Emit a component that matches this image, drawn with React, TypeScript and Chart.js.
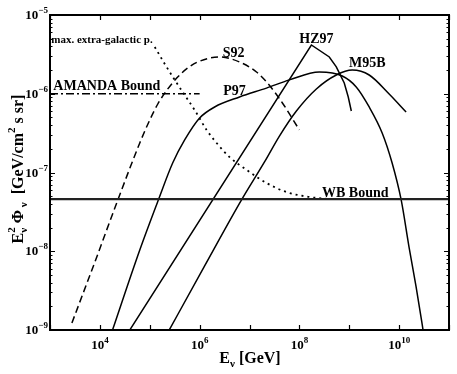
import React, { useEffect, useRef } from 'react';
import { Chart, registerables } from 'chart.js';

Chart.register(...registerables);

// ---------- data (E in GeV, E^2 Phi in GeV/cm^2 s sr) ----------
const wbE = [1e3, 1e11];
const wbF = [4.6e-8, 4.6e-8];

const amandaE = [1e3, 1e6];
const amandaF = [1e-6, 1e-6];

const maxEgE = [1.26e5, 2e5, 3.16e5, 5.01e5, 7.94e5, 1.38e6, 2.19e6, 3.98e6, 8.71e6, 2.19e7, 5.5e7, 1.58e8, 3.98e8];
const maxEgF = [3.93e-6, 2.39e-6, 1.5e-6, 9.64e-7, 6.22e-7, 3.47e-7, 2.37e-7, 1.57e-7, 1.08e-7, 7.36e-8, 5.65e-8, 4.89e-8, 4.6e-8];

const s92E = [2.75e3, 7.94e3, 2.29e4, 6.31e4, 1e5, 1.45e5, 2e5, 3.47e5, 5.75e5, 9.12e5, 2.51e6, 6.31e6, 1.38e7, 2.29e7, 4.57e7, 1e8];
const s92F = [1.23e-9, 7.3e-9, 4.48e-8, 2.37e-7, 4.64e-7, 7.41e-7, 1.02e-6, 1.58e-6, 2.12e-6, 2.53e-6, 2.93e-6, 2.53e-6, 1.89e-6, 1.37e-6, 7.64e-7, 3.47e-7];

const p97E = [1.58e4, 6.31e4, 1.51e5, 2.88e5, 5.01e5, 1e6, 2e6, 6.31e6, 2.19e7, 6.31e7, 2.51e8, 7.24e8, 1.38e9, 2.51e9, 4.57e9, 7.24e9, 1.1e10, 1.58e10, 2.19e10, 3.02e10, 3.3e10];
const p97F = [7.9e-10, 1.04e-8, 4.6e-8, 1.32e-7, 2.59e-7, 4.92e-7, 6.79e-7, 9.1e-7, 1.18e-6, 1.5e-6, 1.89e-6, 1.68e-6, 1.22e-6, 6.79e-7, 3.18e-7, 1.32e-7, 4.48e-8, 1.13e-8, 3.52e-9, 1e-9, 7e-10];

const hz97E = [3.5e4, 1.74e8, 3.98e8, 5.5e8, 7.94e8, 9.55e8, 1.1e9];
const hz97F = [8.8e-10, 4.16e-6, 2.93e-6, 2.19e-6, 1.37e-6, 9.1e-7, 6.04e-7];

const m95bE = [2e5, 1.26e6, 6.92e6, 2e7, 3.98e7, 8.71e7, 2.19e8, 5.5e8, 1.15e9, 2.51e9, 6.31e9, 1.38e10];
const m95bF = [7.9e-10, 6.5e-9, 4.48e-8, 1.36e-7, 2.9e-7, 6.04e-7, 1.15e-6, 1.73e-6, 2.0e-6, 1.73e-6, 9.93e-7, 5.86e-7];

// tick labels (decade exponents)
const xTickExps = [4, 6, 8, 10];
const yTickExps = [-9, -8, -7, -6, -5];

// curve labels: text, anchor energy (centre), anchor flux (baseline)
const labelTexts = ['S92', 'P97', 'HZ97', 'M95B', 'WB Bound', 'AMANDA Bound', 'max. extra-galactic p.'];
const labelE = [4.8e6, 5.0e6, 2.19e8, 2.29e9, 1.32e9, 1.38e4, 1.1e4];
const labelF = [2.93e-6, 9.64e-7, 4.41e-6, 2.19e-6, 4.89e-8, 1.12e-6, 4.41e-6];
const labelSizes = [14, 14, 14, 14, 14, 14, 11];

// ---------- helpers ----------
const fnt = (s: number) => `bold ${s}px "Liberation Serif", "Times New Roman", serif`;

type Part = { t: string; s: number; dy?: number; stack?: boolean };

function layoutParts(ctx: CanvasRenderingContext2D, parts: Part[]) {
  let cur = 0;
  let pending = 0;
  const pos: number[] = [];
  for (const p of parts) {
    ctx.font = fnt(p.s);
    const w = ctx.measureText(p.t).width;
    pos.push(cur);
    if (p.stack) pending = Math.max(pending, w);
    else {
      cur += Math.max(w, pending);
      pending = 0;
    }
  }
  return { pos, width: cur };
}

function drawRich(ctx: CanvasRenderingContext2D, parts: Part[], x: number, y: number, align: string) {
  const { pos, width } = layoutParts(ctx, parts);
  const x0 = align === 'center' ? x - width / 2 : align === 'right' ? x - width : x;
  ctx.textAlign = 'left';
  ctx.textBaseline = 'alphabetic';
  parts.forEach((p, i) => {
    ctx.font = fnt(p.s);
    ctx.fillText(p.t, x0 + pos[i], y + (p.dy || 0));
  });
}

const pts = (xs: number[], ys: number[]) => xs.map((x, i) => ({ x, y: ys[i] }));

const decorPlugin = {
  id: 'decor',
  afterDraw(chart: any) {
    const ctx: CanvasRenderingContext2D = chart.ctx;
    const xs = chart.scales.x;
    const ys = chart.scales.y;
    const { left, right, top, bottom } = chart.chartArea;
    ctx.save();
    ctx.strokeStyle = '#000';
    ctx.fillStyle = '#000';
    // frame
    ctx.lineWidth = 2;
    ctx.strokeRect(left, top, right - left, bottom - top);
    // x ticks (each decade)
    ctx.lineWidth = 1.2;
    for (let e = 3; e <= 11; e++) {
      const px = Math.round(xs.getPixelForValue(Math.pow(10, e))) + 0.5;
      ctx.beginPath();
      ctx.moveTo(px, bottom);
      ctx.lineTo(px, bottom - 5);
      ctx.moveTo(px, top);
      ctx.lineTo(px, top + 5);
      ctx.stroke();
    }
    // y ticks: majors and minors
    for (let e = -9; e <= -5; e++) {
      for (let m = 1; m <= 9; m++) {
        const v = m * Math.pow(10, e);
        if (v > 1.0001e-5) break;
        const py = Math.round(ys.getPixelForValue(v)) + 0.5;
        const len = m === 1 ? 5 : 2.5;
        ctx.beginPath();
        ctx.moveTo(left, py);
        ctx.lineTo(left + len, py);
        ctx.moveTo(right, py);
        ctx.lineTo(right - len, py);
        ctx.stroke();
      }
    }
    // x tick labels
    xTickExps.forEach((e) => {
      const px = xs.getPixelForValue(Math.pow(10, e));
      drawRich(ctx, [{ t: '10', s: 13 }, { t: String(e), s: 9, dy: -6 }], px, bottom + 19, 'center');
    });
    // y tick labels
    yTickExps.forEach((e) => {
      const py = ys.getPixelForValue(Math.pow(10, e));
      drawRich(ctx, [{ t: '10', s: 13 }, { t: '\u2212' + String(-e), s: 9, dy: -6 }], left - 2, py + 4, 'right');
    });
    // curve labels
    labelTexts.forEach((t, i) => {
      const px = xs.getPixelForValue(labelE[i]);
      const py = ys.getPixelForValue(labelF[i]);
      drawRich(ctx, [{ t, s: labelSizes[i] }], px, py, 'center');
    });
    // x title
    drawRich(ctx, [{ t: 'E', s: 16 }, { t: 'ν', s: 11, dy: 4 }, { t: ' [GeV]', s: 16 }], (left + right) / 2 + 0.5, 363, 'center');
    // y title
    ctx.save();
    ctx.translate(23, 169);
    ctx.rotate(-Math.PI / 2);
    drawRich(
      ctx,
      [
        { t: 'E', s: 16 },
        { t: '2', s: 11, dy: -8, stack: true },
        { t: 'ν', s: 11, dy: 4 },
        { t: ' Φ', s: 16 },
        { t: ' ν', s: 11, dy: 4 },
        { t: '  [GeV/cm', s: 16 },
        { t: '2', s: 11, dy: -8 },
        { t: ' s sr]', s: 16 },
      ],
      0,
      0,
      'center'
    );
    ctx.restore();
    ctx.restore();
  },
};

export default function App() {
  const ref = useRef<HTMLCanvasElement | null>(null);
  useEffect(() => {
    if (!ref.current) return;
    const base = { showLine: true, pointRadius: 0, borderColor: '#000', fill: false };
    const chart = new Chart(ref.current, {
      type: 'scatter',
      data: {
        datasets: [
          { ...base, label: 'WB Bound', data: pts(wbE, wbF), borderColor: '#222', borderWidth: 2.2 },
          { ...base, label: 'AMANDA Bound', data: pts(amandaE, amandaF), borderWidth: 1.3, borderDash: [8, 3, 2, 3] },
          { ...base, label: 'max. extra-galactic p.', data: pts(maxEgE, maxEgF), borderWidth: 1.8, borderDash: [2, 4], cubicInterpolationMode: 'monotone' },
          { ...base, label: 'S92', data: pts(s92E, s92F), borderWidth: 1.5, borderDash: [7, 4], cubicInterpolationMode: 'monotone' },
          { ...base, label: 'P97', data: pts(p97E, p97F), borderWidth: 1.5, cubicInterpolationMode: 'monotone' },
          { ...base, label: 'HZ97', data: pts(hz97E, hz97F), borderWidth: 1.5, tension: 0 },
          { ...base, label: 'M95B', data: pts(m95bE, m95bF), borderWidth: 1.5, cubicInterpolationMode: 'monotone' },
        ] as any,
      },
      options: {
        responsive: false,
        animation: false,
        devicePixelRatio: 1,
        layout: { padding: { left: 50, right: 8, top: 15, bottom: 44 } },
        plugins: { legend: { display: false }, tooltip: { enabled: false }, title: { display: false } },
        scales: {
          x: { type: 'logarithmic', min: 1e3, max: 1e11, display: false },
          y: { type: 'logarithmic', min: 1e-9, max: 1e-5, display: false },
        },
      } as any,
      plugins: [decorPlugin],
    });
    return () => chart.destroy();
  }, []);
  return (
    <div style={{ position: 'absolute', left: 0, top: 0, width: 457, height: 374, background: '#fff' }}>
      <canvas ref={ref} width={457} height={374} style={{ display: 'block' }} />
    </div>
  );
}
